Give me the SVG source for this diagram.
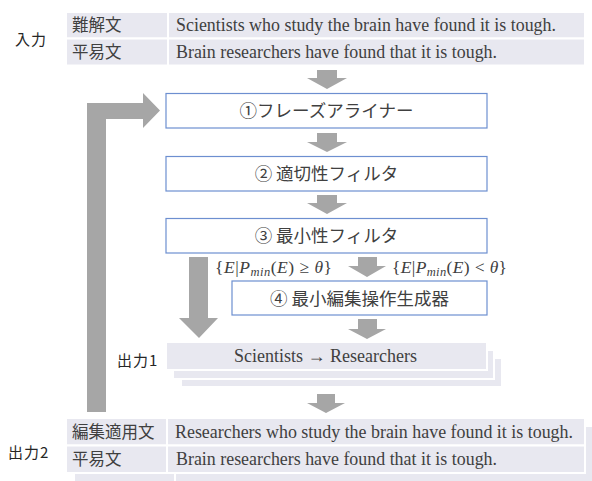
<svg xmlns="http://www.w3.org/2000/svg" width="592" height="481" viewBox="0 0 592 481">
<style>
.bg{fill:#ffffff}
.cell{fill:#e8e8f0;stroke:#ffffff;stroke-width:2}
.box{fill:#ffffff;stroke:#6d8fd0;stroke-width:1.2}
.arr{fill:#a6a6a6}
.jp{font-family:"Noto Sans CJK JP","Noto Sans",sans-serif;fill:#404040}
.lbl{font-family:"Noto Sans CJK JP","Liberation Sans",sans-serif;font-size:15px;fill:#262626;letter-spacing:1px}
.en{font-family:"Liberation Serif","Times New Roman",serif;font-size:18px;fill:#404040}
.bx{font-size:17.5px;text-anchor:middle}
.cj{font-size:16.5px}
.m{font-family:"Liberation Serif","Times New Roman",serif;font-size:17.5px;fill:#404040}
.it{font-style:italic}
</style>
<rect class="bg" x="0" y="0" width="592" height="481"/>

<g id="input">
  <text class="lbl" x="15" y="45">入力</text>
  <rect class="cell" x="66" y="12" width="102" height="26.5"/>
  <rect class="cell" x="168" y="12" width="417" height="26.5"/>
  <rect class="cell" x="66" y="38.5" width="102" height="27"/>
  <rect class="cell" x="168" y="38.5" width="417" height="27"/>
  <text class="jp cj" x="72" y="31">難解文</text>
  <text class="jp cj" x="72" y="58">平易文</text>
  <text class="en" x="176" y="31" textLength="380" lengthAdjust="spacingAndGlyphs">Scientists who study the brain have found it is tough.</text>
  <text class="en" x="176" y="58" textLength="321" lengthAdjust="spacingAndGlyphs">Brain researchers have found that it is tough.</text>
</g>

<g id="n1">
  <rect class="box" x="166" y="93.5" width="321" height="34.5"/>
  <text class="jp bx" x="326.5" y="117">①フレーズアライナー</text>
</g>
<g id="n2">
  <rect class="box" x="166" y="156.5" width="321" height="34.5"/>
  <text class="jp bx" x="326.5" y="180">② 適切性フィルタ</text>
</g>
<g id="n3">
  <rect class="box" x="166" y="218.5" width="321" height="34.5"/>
  <text class="jp bx" x="326.5" y="242">③ 最小性フィルタ</text>
</g>
<g id="n4">
  <rect class="box" x="232" y="281" width="255" height="34"/>
  <text class="jp bx" x="359.5" y="304.5">④ 最小編集操作生成器</text>
</g>

<g id="output1">
  <text class="lbl" x="117" y="366">出力1</text>
  <rect class="cell" x="181" y="358" width="321" height="29"/>
  <rect class="cell" x="173" y="350" width="321" height="29"/>
  <rect class="cell" x="166" y="342" width="321" height="28"/>
  <text class="en" x="234" y="362" textLength="183" lengthAdjust="spacingAndGlyphs">Scientists → Researchers</text>
</g>

<g id="output2">
  <text class="lbl" x="8" y="458">出力2</text>
  <rect class="cell" x="74" y="426" width="101" height="56"/>
  <rect class="cell" x="175" y="426" width="420" height="56"/>
  <rect class="cell" x="66" y="418" width="101" height="27.5"/>
  <rect class="cell" x="167" y="418" width="418" height="27.5"/>
  <rect class="cell" x="66" y="445.5" width="101" height="27.5"/>
  <rect class="cell" x="167" y="445.5" width="418" height="27.5"/>
  <text class="jp cj" x="72" y="437.5">編集適用文</text>
  <text class="jp cj" x="72" y="465">平易文</text>
  <text class="en" x="175" y="437.5" textLength="398" lengthAdjust="spacingAndGlyphs">Researchers who study the brain have found it is tough.</text>
  <text class="en" x="176" y="465" textLength="321" lengthAdjust="spacingAndGlyphs">Brain researchers have found that it is tough.</text>
</g>

<g id="connectors">
  <polygon class="arr" points="317,70 337,70 337,78 347,78 327,89 307,78 317,78"/>
  <polygon class="arr" points="317,133 337,133 337,142 347,142 327,152 307,142 317,142"/>
  <polygon class="arr" points="317,195 337,195 337,203 347,203 327,214 307,203 317,203"/>
  <polygon class="arr" points="358,257 377,257 377,266 386,266 367,277 348,266 358,266"/>
  <polygon class="arr" points="358,319 377,319 377,329 386,329 367,339 348,329 358,329"/>
  <polygon class="arr" points="317,394 335,394 335,403 345,403 326,413 307,403 317,403"/>
  <polygon class="arr" points="189,257 208,257 208,318 218,318 199,338 179,318 189,318"/>
  <polygon class="arr" points="87,412 87,103 143,103 143,93 160,110.5 143,128 143,119 106,119 106,412"/>
  <text class="m" x="215" y="273" textLength="117" lengthAdjust="spacing">{<tspan class="it">E</tspan>|<tspan class="it">P</tspan><tspan class="it" font-size="12.5" dy="3">min</tspan><tspan dy="-3">(</tspan><tspan class="it">E</tspan>) ≥ <tspan class="it">θ</tspan>}</text>
  <text class="m" x="392" y="273" textLength="115" lengthAdjust="spacing">{<tspan class="it">E</tspan>|<tspan class="it">P</tspan><tspan class="it" font-size="12.5" dy="3">min</tspan><tspan dy="-3">(</tspan><tspan class="it">E</tspan>) &lt; <tspan class="it">θ</tspan>}</text>
</g>
</svg>
